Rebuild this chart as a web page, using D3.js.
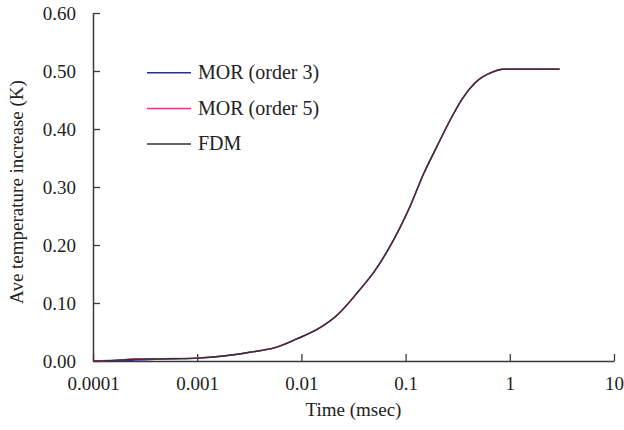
<!DOCTYPE html>
<html>
<head>
<meta charset="utf-8">
<script src="https://cdn.jsdelivr.net/npm/d3@7"></script>
<style>
  html, body { margin: 0; padding: 0; background: #fff; }
  svg { display: block; }
  text { font-family: "Liberation Serif", "Times New Roman", serif; fill: #222; }
</style>
</head>
<body>
<svg id="chart" width="624" height="430"></svg>
<script>
// Time axis (msec) and average temperature rise (K) for the three solvers
const timeMs = [0.0001, 0.00016, 0.00025, 0.0004, 0.0006, 0.001, 0.0018, 0.0032, 0.0056,
                0.009, 0.014, 0.022, 0.036, 0.05, 0.068, 0.11, 0.15, 0.2, 0.28, 0.35,
                0.46, 0.7, 0.85, 3.0];
const morOrder3 = [0.000, 0.0005, 0.0015, 0.0028, 0.0038, 0.005, 0.0087, 0.015, 0.023,
                   0.038, 0.054, 0.079, 0.122, 0.154, 0.192, 0.266, 0.324, 0.370, 0.422, 0.452,
                   0.479, 0.499, 0.503, 0.503];
const morOrder5 = [0.000, 0.0015, 0.0035, 0.0038, 0.0042, 0.0052, 0.0089, 0.0152, 0.0232,
                   0.0382, 0.0542, 0.0792, 0.1222, 0.1542, 0.1922, 0.2662, 0.3242, 0.3702, 0.4222, 0.4522,
                   0.4792, 0.4992, 0.503, 0.503];
const fdm = [0.000, 0.001, 0.003, 0.0035, 0.004, 0.005, 0.0087, 0.015, 0.023,
             0.038, 0.054, 0.079, 0.122, 0.154, 0.192, 0.266, 0.324, 0.370, 0.422, 0.452,
             0.479, 0.499, 0.503, 0.503];

const xTicks = [0.0001, 0.001, 0.01, 0.1, 1, 10];
const xTickLabels = ["0.0001", "0.001", "0.01", "0.1", "1", "10"];
const yTicks = [0, 0.1, 0.2, 0.3, 0.4, 0.5, 0.6];

const seriesNames = ["MOR (order 3)", "MOR (order 5)", "FDM"];
const seriesColors = ["#2e2e8a", "#e8358f", "#333333"];
const seriesValues = [morOrder3, morOrder5, fdm];

const svg = d3.select("#chart");
const plotLeft = 93, plotRight = 614, plotTop = 13, plotBottom = 361;

const x = d3.scaleLog().domain([0.0001, 10]).range([plotLeft, plotRight]);
const y = d3.scaleLinear().domain([0, 0.6]).range([plotBottom, plotTop]);

const axisColor = "#3a3a3a";
const tickFont = "19px";

// x axis with inward ticks
const xAxis = svg.append("g").attr("transform", `translate(0,${plotBottom})`)
  .call(d3.axisBottom(x).tickValues(xTicks).tickSizeInner(-7).tickSizeOuter(0)
        .tickFormat((d, i) => xTickLabels[i]));
xAxis.select(".domain").attr("stroke", axisColor).attr("stroke-width", 1.5);
xAxis.selectAll(".tick line").attr("stroke", axisColor).attr("stroke-width", 1.3);
xAxis.selectAll(".tick text")
  .attr("y", 16).attr("dy", "0.71em")
  .style("font-family", '"Liberation Serif", serif').style("font-size", tickFont).attr("fill", "#222");

// y axis with inward ticks
const yAxis = svg.append("g").attr("transform", `translate(${plotLeft},0)`)
  .call(d3.axisLeft(y).tickValues(yTicks).tickSizeInner(-7).tickSizeOuter(0)
        .tickFormat(d3.format(".2f")));
yAxis.select(".domain").attr("stroke", axisColor).attr("stroke-width", 1.5);
yAxis.selectAll(".tick line").attr("stroke", axisColor).attr("stroke-width", 1.3);
yAxis.selectAll(".tick text")
  .attr("x", -17)
  .style("font-family", '"Liberation Serif", serif').style("font-size", tickFont).attr("fill", "#222");

// curves
const line = d3.line().x((d, i) => x(timeMs[i])).y(d => y(d)).curve(d3.curveMonotoneX);
seriesValues.forEach((vals, k) => {
  svg.append("path")
    .datum(vals)
    .attr("fill", "none")
    .attr("stroke", seriesColors[k])
    .attr("stroke-width", 1.4)
    .attr("stroke-linejoin", "round")
    .attr("d", line);
});

// legend
const legendY = [72.7, 108.5, 144];
seriesNames.forEach((name, k) => {
  svg.append("line")
    .attr("x1", 147).attr("x2", 191)
    .attr("y1", legendY[k]).attr("y2", legendY[k])
    .attr("stroke", seriesColors[k]).attr("stroke-width", 1.5);
  svg.append("text")
    .attr("x", 198).attr("y", legendY[k] + 6)
    .style("font-size", "20px")
    .text(name);
});

// axis titles
svg.append("text")
  .attr("x", (plotLeft + plotRight) / 2).attr("y", 416)
  .attr("text-anchor", "middle")
  .style("font-size", "19px")
  .text("Time (msec)");

svg.append("text")
  .attr("transform", `translate(23,192) rotate(-90)`)
  .attr("text-anchor", "middle")
  .style("font-size", "19px")
  .text("Ave temperature increase (K)");
</script>
</body>
</html>
